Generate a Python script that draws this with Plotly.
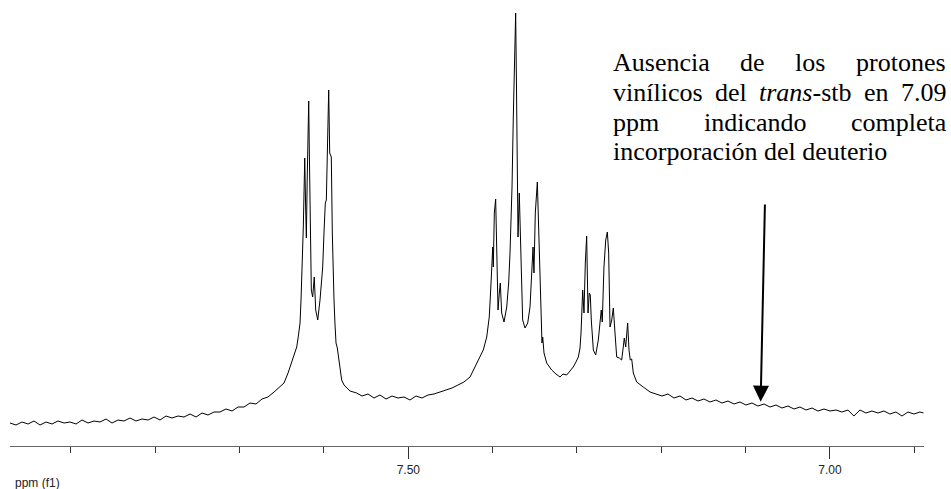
import plotly.graph_objects as go

# ---- data: 1H NMR trace (ppm vs. intensity, arbitrary units) ----
ppm = [
    7.9723, 7.9652, 7.9580, 7.9509, 7.9438, 7.9367, 7.9296, 7.9225, 7.9154, 7.9082,
    7.9011, 7.8940, 7.8869, 7.8798, 7.8727, 7.8656, 7.8584, 7.8513, 7.8442, 7.8371,
    7.8300, 7.8229, 7.8158, 7.8086, 7.8015, 7.7944, 7.7873, 7.7802, 7.7731, 7.7660,
    7.7588, 7.7517, 7.7446, 7.7375, 7.7304, 7.7233, 7.7162, 7.7090, 7.7019, 7.6948,
    7.6877, 7.6806, 7.6735, 7.6664, 7.6592, 7.6521, 7.6474, 7.6426, 7.6391, 7.6355,
    7.6323, 7.6302, 7.6284, 7.6272, 7.6264, 7.6252, 7.6245, 7.6237, 7.6228, 7.6219,
    7.6209, 7.6199, 7.6189, 7.6181, 7.6174, 7.6166, 7.6157, 7.6150, 7.6134, 7.6115,
    7.6098, 7.6074, 7.6047, 7.6015, 7.6000, 7.5984, 7.5972, 7.5964, 7.5956, 7.5944,
    7.5932, 7.5920, 7.5913, 7.5901, 7.5893, 7.5881, 7.5869, 7.5857, 7.5842, 7.5825,
    7.5810, 7.5790, 7.5762, 7.5730, 7.5691, 7.5612, 7.5549, 7.5478, 7.5407, 7.5336,
    7.5264, 7.5193, 7.5122, 7.5051, 7.4980, 7.4909, 7.4838, 7.4766, 7.4695, 7.4624,
    7.4553, 7.4482, 7.4411, 7.4340, 7.4268, 7.4189, 7.4150, 7.4111, 7.4070, 7.4040,
    7.4023, 7.4008, 7.3999, 7.3992, 7.3980, 7.3964, 7.3948, 7.3936, 7.3921, 7.3909,
    7.3893, 7.3865, 7.3833, 7.3810, 7.3794, 7.3782, 7.3770, 7.3755, 7.3743, 7.3727,
    7.3718, 7.3711, 7.3699, 7.3684, 7.3667, 7.3644, 7.3616, 7.3584, 7.3557, 7.3533,
    7.3521, 7.3510, 7.3494, 7.3470, 7.3454, 7.3435, 7.3415, 7.3406, 7.3391, 7.3359,
    7.3300, 7.3249, 7.3201, 7.3166, 7.3122, 7.3083, 7.3044, 7.3012, 7.2984, 7.2964,
    7.2952, 7.2932, 7.2917, 7.2901, 7.2885, 7.2869, 7.2854, 7.2842, 7.2830, 7.2806,
    7.2778, 7.2747, 7.2727, 7.2712, 7.2700, 7.2680, 7.2659, 7.2640, 7.2624, 7.2608,
    7.2588, 7.2569, 7.2549, 7.2529, 7.2498, 7.2470, 7.2451, 7.2439, 7.2422, 7.2399,
    7.2383, 7.2368, 7.2351, 7.2332, 7.2292, 7.2253, 7.2214, 7.2182, 7.2134, 7.2063,
    7.1992, 7.1921, 7.1850, 7.1778, 7.1707, 7.1636, 7.1565, 7.1494, 7.1423, 7.1352,
    7.1280, 7.1209, 7.1138, 7.1067, 7.0996, 7.0925, 7.0854, 7.0782, 7.0711, 7.0640,
    7.0569, 7.0498, 7.0427, 7.0356, 7.0284, 7.0213, 7.0142, 7.0071, 7.0000, 6.9929,
    6.9858, 6.9787, 6.9716, 6.9644, 6.9573, 6.9502, 6.9431, 6.9360, 6.9289, 6.9218,
    6.9146, 6.9075, 6.9004, 6.8933, 6.8891,
]
intensity = [
    23, 21, 24, 22, 25, 21, 24, 22, 25, 23,
    24, 22, 26, 23, 25, 24, 27, 23, 26, 25,
    28, 25, 27, 26, 29, 26, 30, 28, 30, 29,
    32, 29, 33, 31, 34, 34, 37, 35, 39, 39,
    43, 42, 47, 49, 54, 59, 63, 73, 82, 92,
    99, 111, 123, 146, 163, 199, 219, 251, 288, 246,
    208, 266, 321, 345, 296, 246, 191, 156, 149, 169,
    136, 126, 146, 179, 213, 243, 246, 276, 306, 356,
    293, 291, 289, 213, 176, 146, 121, 103, 98, 86,
    74, 66, 61, 58, 55, 53, 50, 52, 48, 51,
    47, 50, 48, 49, 46, 50, 48, 51, 52, 54,
    56, 58, 61, 64, 69, 83, 89, 96, 109, 129,
    156, 193, 199, 179, 233, 247, 179, 136, 153, 163,
    133, 124, 139, 163, 193, 226, 259, 329, 379, 433,
    366, 306, 209, 253, 186, 126, 118, 123, 139, 179,
    199, 173, 233, 264, 213, 139, 103, 109, 93, 83,
    76, 72, 69, 72, 71, 75, 79, 84, 89, 98,
    113, 156, 133, 183, 210, 133, 153, 151, 126, 96,
    91, 106, 126, 136, 124, 179, 206, 214, 193, 119,
    126, 138, 113, 89, 88, 86, 99, 108, 99, 123,
    96, 86, 87, 73, 64, 61, 59, 57, 54, 52,
    50, 52, 48, 50, 46, 48, 45, 47, 44, 46,
    43, 45, 42, 44, 41, 43, 40, 42, 39, 41,
    38, 40, 37, 39, 36, 38, 35, 37, 35, 36,
    34, 36, 30, 36, 33, 35, 33, 35, 32, 34,
    30, 34, 32, 34, 33,
]

# annotation target (vinyl protons of trans-stilbene, 7.09 ppm region)
arrow_ppm = 7.0822
arrow_int = 44.3

x_range = [7.9723, 6.8885]
y_range = [0, 446]

note_line1 = ["Ausencia", "de", "los", "protones"]
note_line2 = ["vinílicos", "del", "<i>trans</i>-stb", "en", "7.09"]
note_line3 = ["ppm", "indicando", "completa"]
note_line4 = "incorporación del deuterio"

# ---- layout geometry (pixels) ----
W, H = 951, 489
ML, MR, MT, MB = 10, 27, 0, 43
PW, PH = W - ML - MR, H - MT - MB


def px(x):
    return (x - ML) / PW


def py(y):
    return (H - MB - y) / PH


fig = go.Figure()
fig.add_trace(go.Scatter(
    x=ppm, y=intensity, mode="lines",
    line=dict(color="#000000", width=1),
    hoverinfo="skip", showlegend=False,
))

serif = dict(family="Liberation Serif, Times New Roman, serif", size=26, color="#000000")
annotations = []

line1_x = [611.7, 739.1, 794.3, 855.3]
line2_x = [611.7, 713.6, 757.8, 862.6, 899.5]
line3_x = [611.7, 702.6, 849.7]
line_y = [63, 92.5, 122, 151.5]

for words, xs, yc in [(note_line1, line1_x, line_y[0]),
                      (note_line2, line2_x, line_y[1]),
                      (note_line3, line3_x, line_y[2])]:
    for w, xx in zip(words, xs):
        annotations.append(dict(
            text=w, x=px(xx), y=py(yc), xref="paper", yref="paper",
            xanchor="left", yanchor="middle", showarrow=False, font=serif,
            borderpad=0,
        ))
annotations.append(dict(
    text=note_line4, x=px(611.7), y=py(line_y[3]), xref="paper", yref="paper",
    xanchor="left", yanchor="middle", showarrow=False, font=serif, borderpad=0,
))

annotations.append(dict(
    x=arrow_ppm, y=arrow_int, xref="x", yref="y", text="",
    showarrow=True, arrowhead=2, arrowsize=1.6, arrowwidth=2,
    arrowcolor="#000000", ax=4.3, ay=-198.7, standoff=0,
))

annotations.append(dict(
    text="ppm (f1)", x=px(13), y=py(483), xref="paper", yref="paper",
    xanchor="left", yanchor="middle", showarrow=False,
    font=dict(family="Liberation Sans, Arial, sans-serif", size=12, color="#222222"),
))

fig.update_layout(
    width=W, height=H,
    margin=dict(l=ML, r=MR, t=MT, b=MB, pad=0),
    paper_bgcolor="white", plot_bgcolor="white",
    annotations=annotations,
    xaxis=dict(
        range=x_range, showgrid=False, zeroline=False,
        showline=True, linecolor="#666666", linewidth=1.3,
        ticks="outside", ticklen=12, tickwidth=1, tickcolor="#333333",
        tick0=7.0, dtick=0.5, tickformat=".2f",
        tickfont=dict(family="Liberation Sans, Arial, sans-serif", size=12, color="#222222"),
        minor=dict(ticks="outside", ticklen=6, tickwidth=1, tickcolor="#333333",
                   tick0=7.0, dtick=0.1, showgrid=False),
    ),
    yaxis=dict(range=y_range, visible=False, showgrid=False, zeroline=False),
    hovermode=False,
)

fig.write_html(
    "out.html",
    config={"displayModeBar": False},
    post_script="document.body.style.margin='0';document.body.style.padding='0';",
)
